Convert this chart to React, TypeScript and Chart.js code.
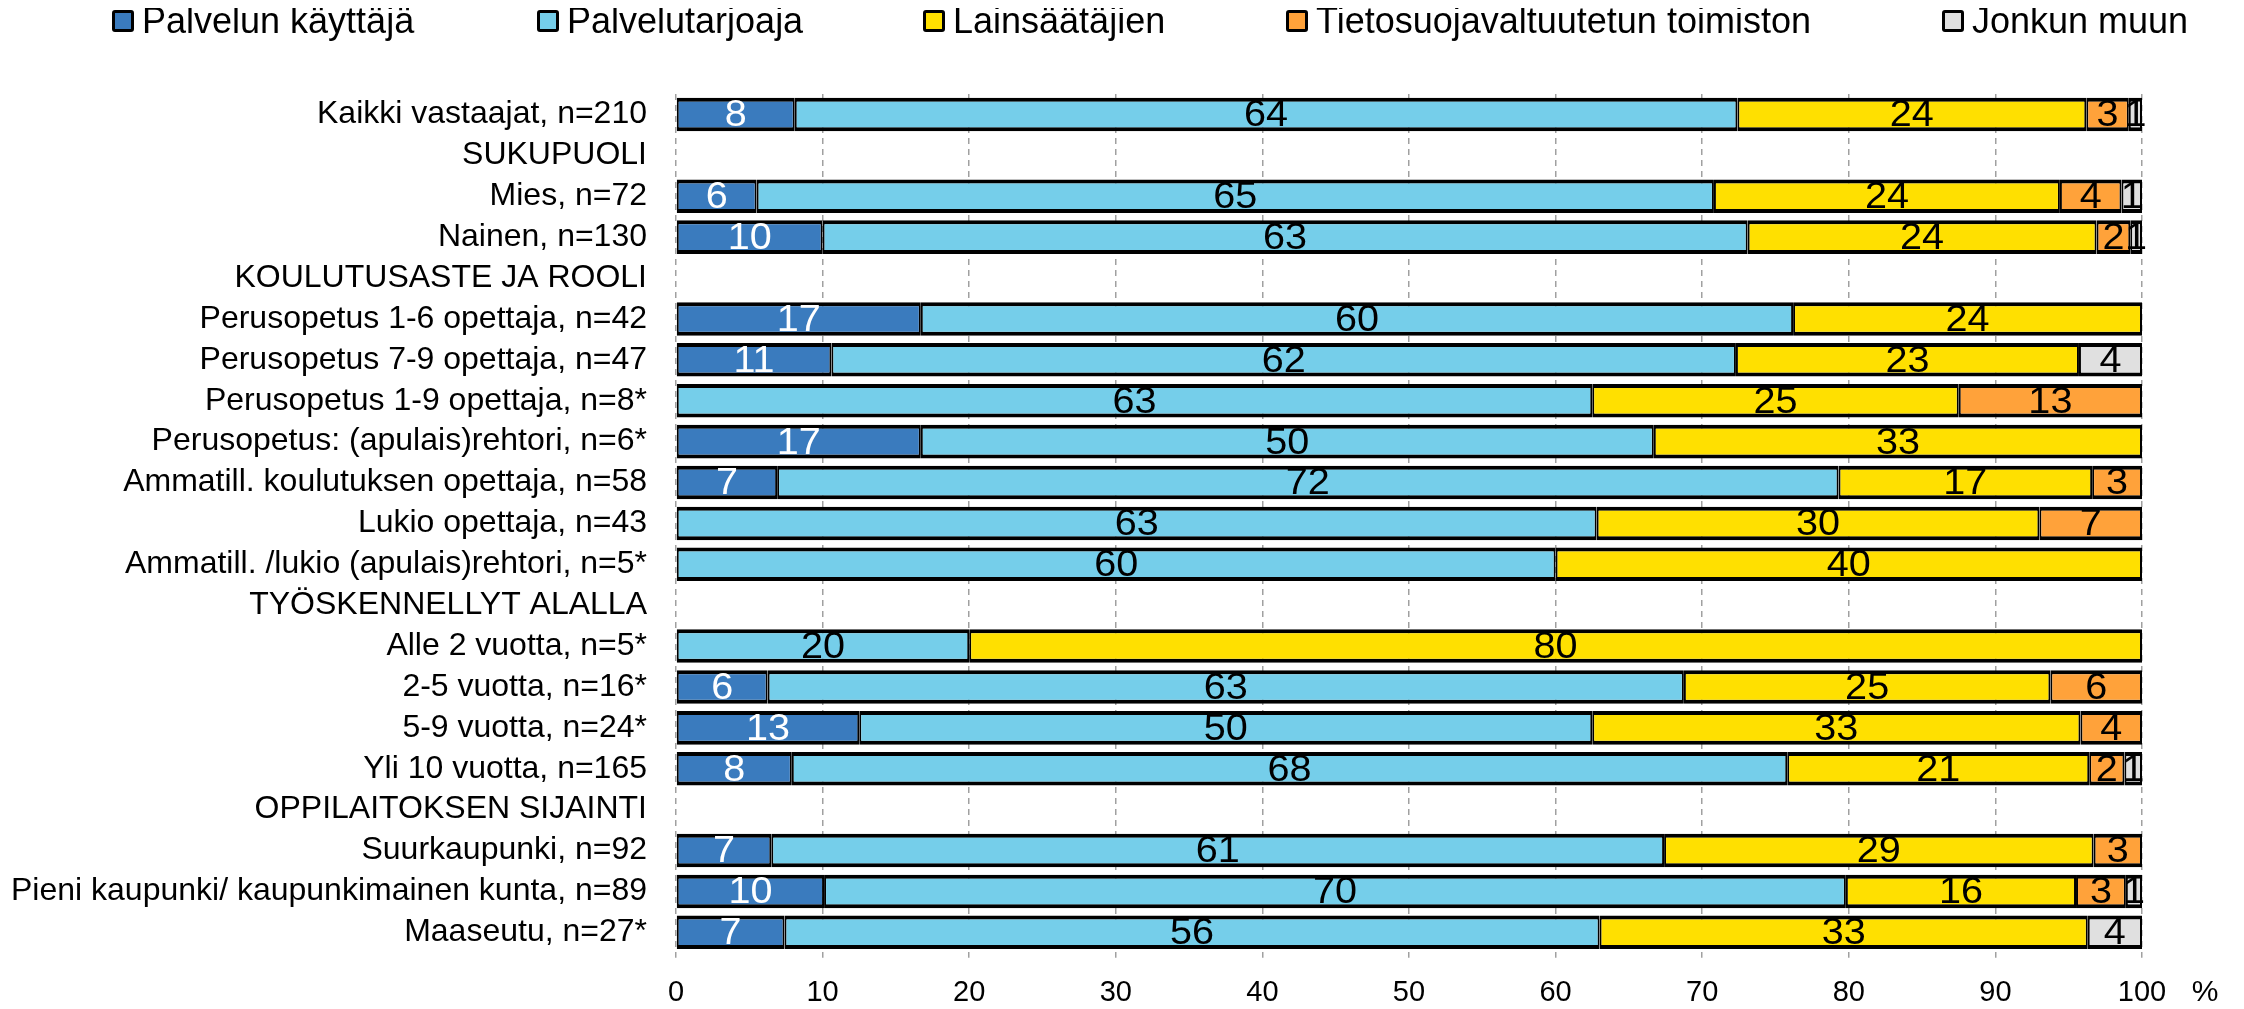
import React, { useEffect, useRef } from "react";
import { Chart, registerables } from "chart.js";

Chart.register(...registerables);

const categories = [
  "Kaikki vastaajat, n=210",
  "SUKUPUOLI",
  "Mies, n=72",
  "Nainen, n=130",
  "KOULUTUSASTE JA ROOLI",
  "Perusopetus 1-6 opettaja, n=42",
  "Perusopetus 7-9 opettaja, n=47",
  "Perusopetus 1-9 opettaja, n=8*",
  "Perusopetus: (apulais)rehtori, n=6*",
  "Ammatill. koulutuksen opettaja, n=58",
  "Lukio opettaja, n=43",
  "Ammatill. /lukio (apulais)rehtori, n=5*",
  "TYÖSKENNELLYT ALALLA",
  "Alle 2 vuotta, n=5*",
  "2-5 vuotta, n=16*",
  "5-9 vuotta, n=24*",
  "Yli 10 vuotta, n=165",
  "OPPILAITOKSEN SIJAINTI",
  "Suurkaupunki, n=92",
  "Pieni kaupunki/ kaupunkimainen kunta, n=89",
  "Maaseutu, n=27*",
];

const seriesNames = [
  "Palvelun käyttäjä",
  "Palvelutarjoaja",
  "Lainsäätäjien",
  "Tietosuojavaltuutetun toimiston",
  "Jonkun muun",
];

const palvelunKayttaja = [8.1, null, 5.5, 10.0, null, 16.7, 10.6, 0, 16.7, 6.9, 0, 0, null, 0, 6.25, 12.5, 7.9, null, 6.5, 10.1, 7.4];
const palvelutarjoaja = [64.3, null, 65.3, 63.1, null, 59.5, 61.7, 62.5, 50, 72.4, 62.8, 60, null, 20, 62.5, 50, 67.9, null, 60.9, 69.7, 55.6];
const lainsaatajien = [23.8, null, 23.6, 23.8, null, 23.8, 23.4, 25, 33.3, 17.3, 30.2, 40, null, 80, 25, 33.3, 20.6, null, 29.3, 15.7, 33.3];
const tietosuoja = [2.9, null, 4.2, 2.3, null, 0, 0, 12.5, 0, 3.4, 7.0, 0, null, 0, 6.25, 4.2, 2.4, null, 3.3, 3.4, 0];
const jonkunMuun = [0.9, null, 1.4, 0.8, null, 0, 4.3, 0, 0, 0, 0, 0, null, 0, 0, 0, 1.2, null, 0, 1.1, 3.7];

const xTicks = [0, 10, 20, 30, 40, 50, 60, 70, 80, 90, 100];
const xUnit = "%";

const colors = ["#3A7BBE", "#75CEEA", "#FFE000", "#FFA23A", "#E0E0E0"];
const labelColors = ["#FFFFFF", "#000000", "#000000", "#000000", "#000000"];
const FONT = "'Liberation Sans', Arial, Helvetica, sans-serif";

const legendLeft = [104, 529, 915, 1278, 1934];

const dataLabelPlugin = {
  id: "dataLabels",
  afterDatasetsDraw(chart: any) {
    const ctx = chart.ctx;
    chart.data.datasets.forEach((ds: any, i: number) => {
      const meta = chart.getDatasetMeta(i);
      meta.data.forEach((el: any, j: number) => {
        const v = ds.data[j];
        if (v == null || v <= 0) return;
        const p = el.getProps(["x", "base", "y"], true);
        ctx.save();
        ctx.translate((p.x + p.base) / 2, p.y + 2);
        ctx.scale(1.1, 1);
        ctx.font = `36px ${FONT}`;
        ctx.textAlign = "center";
        ctx.textBaseline = "middle";
        ctx.fillStyle = labelColors[i];
        ctx.fillText(String(Math.round(v)), 0, 0);
        ctx.restore();
      });
    });
  },
};

const xLabelPlugin = {
  id: "xLabels",
  afterDraw(chart: any) {
    const ctx = chart.ctx;
    const xs = chart.scales.x;
    const y = xs.top + 40;
    ctx.save();
    ctx.font = `29px ${FONT}`;
    ctx.fillStyle = "#000";
    ctx.textAlign = "center";
    ctx.textBaseline = "middle";
    xTicks.forEach((v) => {
      ctx.fillText(String(v), xs.getPixelForValue(v), y);
    });
    ctx.font = `30px ${FONT}`;
    ctx.fillText(xUnit, xs.right + 63, y);
    ctx.restore();
  },
};

export default function App() {
  const canvasRef = useRef<HTMLCanvasElement | null>(null);

  useEffect(() => {
    if (!canvasRef.current) return;
    const series = [palvelunKayttaja, palvelutarjoaja, lainsaatajien, tietosuoja, jonkunMuun];
    const chart = new Chart(canvasRef.current, {
      type: "bar",
      data: {
        labels: categories,
        datasets: series.map((arr, i) => ({
          label: seriesNames[i],
          data: arr.map((v) => (v == null || v === 0 ? null : v)),
          backgroundColor: colors[i],
          borderColor: "#000000",
          borderWidth: { top: 4, bottom: 4, left: 2, right: 2 },
          borderSkipped: false,
          inflateAmount: 0,
          categoryPercentage: 1,
          barPercentage: 0.82,
        })),
      },
      options: {
        indexAxis: "y",
        animation: false,
        responsive: false,
        maintainAspectRatio: false,
        layout: { padding: { left: 0, right: 94, top: 86, bottom: 0 } },
        plugins: {
          legend: { display: false },
          tooltip: { enabled: false },
        },
        scales: {
          x: {
            stacked: true,
            min: 0,
            max: 100,
            afterFit: (s: any) => {
              s.height = 46;
            },
            afterBuildTicks: (s: any) => {
              s.ticks = xTicks.map((v) => ({ value: v }));
            },
            grid: {
              color: "#A0A0A0",
              lineWidth: 1.5,
              drawTicks: true,
              tickLength: 5,
              tickBorderDash: [],
            },
            border: { display: false, dash: [6, 5] },
            ticks: {
              display: false,
            },
          },
          y: {
            stacked: true,
            afterFit: (s: any) => {
              s.width = 668;
            },
            grid: { display: false, drawTicks: false },
            border: { display: false },
            ticks: {
              font: { family: FONT, size: 32 },
              color: "#000",
              padding: 29,
              autoSkip: false,
            },
          },
        },
      },
      plugins: [dataLabelPlugin, xLabelPlugin],
    });
    return () => chart.destroy();
  }, []);

  return (
    <div style={{ position: "relative", width: 2228, height: 993, fontFamily: FONT }}>
      <canvas
        ref={canvasRef}
        width={2228}
        height={993}
        style={{ position: "absolute", left: 0, top: 0, width: 2228, height: 993 }}
      />
      {seriesNames.map((name, i) => (
        <div
          key={name}
          style={{
            position: "absolute",
            left: legendLeft[i],
            top: 2,
            height: 22,
            display: "flex",
            alignItems: "center",
            whiteSpace: "nowrap",
          }}
        >
          <div
            style={{
              width: 22,
              height: 22,
              boxSizing: "border-box",
              border: "3px solid #000",
              borderRadius: 3,
              background: colors[i],
              marginRight: 8,
              flex: "0 0 auto",
            }}
          />
          <span style={{ fontSize: 36, lineHeight: "22px", color: "#000" }}>{name}</span>
        </div>
      ))}
    </div>
  );
}
